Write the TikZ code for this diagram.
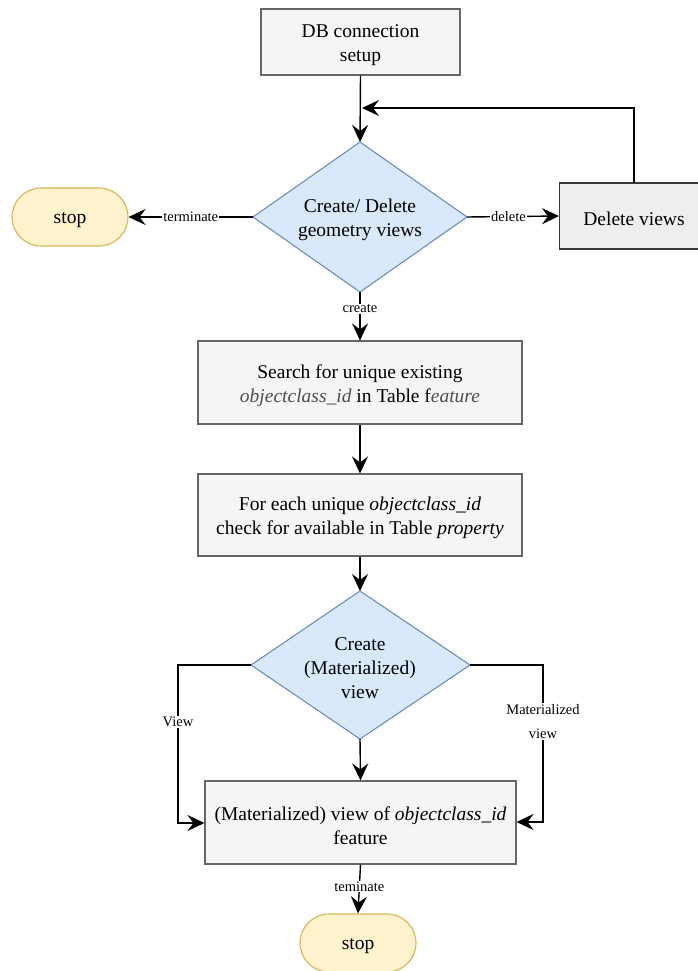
\documentclass[tikz,border=0pt]{standalone}
\usepackage{fontspec}
\setmainfont{Liberation Serif}
\usetikzlibrary{arrows.meta}
\definecolor{procfill}{HTML}{F5F5F5}
\definecolor{procline}{HTML}{666666}
\definecolor{delfill}{HTML}{EEEEEE}
\definecolor{delline}{HTML}{36393D}
\definecolor{decfill}{HTML}{DAE8FC}
\definecolor{decline}{HTML}{6C8EBF}
\definecolor{termfill}{HTML}{FFF2CC}
\definecolor{termline}{HTML}{D6B656}
\definecolor{soft}{HTML}{4D4D4D}
\begin{document}
\begin{tikzpicture}[x=1pt,y=-1pt,
  txt/.style={font=\fontsize{19.5}{24}\selectfont, align=center, inner sep=0pt},
  proc/.style={draw=procline, fill=procfill, line width=1.1pt, inner sep=0pt},
  delbox/.style={draw=delline, fill=delfill, line width=1.1pt, inner sep=0pt},
  term/.style={draw=termline, fill=termfill, line width=1.1pt, rounded corners=29pt, inner sep=0pt},
  flow/.style={line width=1.4pt, -{Stealth[length=17pt,width=16pt,inset=6pt]}},
  lbl/.style={font=\fontsize{14.5}{24}\selectfont, fill=white, inner sep=1pt, align=center}
]
\useasboundingbox (0,0) rectangle (698,971);

% process boxes (text set a little below the geometric centre)
\node[proc, minimum width=199pt, minimum height=66pt] (db) at (360.5,42) {};
\node[txt] (dbtext) at ([yshift=-3pt]db.center) {DB connection\\setup};

\node[proc, minimum width=324pt, minimum height=83pt] (search) at (360,382.5) {};
\node[txt] (searchtext) at ([yshift=-3pt]search.center)
  {Search for unique existing\\\textcolor{soft}{\textit{objectclass\_id}} in Table f\textcolor{soft}{\textit{eature}}};

\node[proc, minimum width=324pt, minimum height=82pt] (each) at (360,515) {};
\node[txt] (eachtext) at ([yshift=-3pt]each.center)
  {For each unique \textit{objectclass\_id}\\check for available in Table \textit{property}};

\node[proc, minimum width=311pt, minimum height=83pt] (mat) at (360.5,822.5) {};
\node[txt] (mattext) at ([yshift=-3pt]mat.center)
  {(Materialized) view of \textit{objectclass\_id}\\feature};

\node[delbox, minimum width=150pt, minimum height=66pt, anchor=west] (del) at (559,216) {};
\node[txt] (deltext) at ([yshift=-3pt]634,216) {Delete views};

% decisions drawn as polygons with named corners
\coordinate (d1t) at (360,142);
\coordinate (d1b) at (360,292);
\coordinate (d1l) at (253,217);
\coordinate (d1r) at (467,217);
\filldraw[draw=decline, fill=decfill, line width=1.1pt] (d1t) -- (d1r) -- (d1b) -- (d1l) -- cycle;
\node[txt] (d1) at ([yshift=-3pt]360,217) {Create/ Delete\\geometry views};

\coordinate (d2t) at (360,591);
\coordinate (d2b) at (360,739);
\coordinate (d2l) at (251,665);
\coordinate (d2r) at (470,665);
\filldraw[draw=decline, fill=decfill, line width=1.1pt] (d2t) -- (d2r) -- (d2b) -- (d2l) -- cycle;
\node[txt] (d2) at ([yshift=-3pt]360,665) {Create\\(Materialized)\\view};

% terminators
\node[term, minimum width=116pt, minimum height=58pt] (stop1) at (70,217) {};
\node[txt] (stop1text) at ([yshift=-3pt]stop1.center) {stop};
\node[term, minimum width=116pt, minimum height=58pt] (stop2) at (358,943) {};
\node[txt] (stop2text) at ([yshift=-3pt]stop2.center) {stop};

% connectors
\coordinate (loopin) at (362,108);
\draw[flow] (db.south) -- (d1t);
\draw[flow] (634,183) -- (634,108) -- (loopin);
\draw[flow] (d1l) -- node[lbl, pos=0.5]{terminate} (stop1.east);
\draw[flow] (d1r) -- node[lbl, pos=0.45]{delete} (del.west);
\draw[flow] (d1b) -- node[lbl, pos=0.35]{create} (search.north);
\draw[flow] (search.south) -- (each.north);
\draw[flow] (each.south) -- (d2t);
\draw[flow] (d2l) -- (178,665) -- node[lbl, pos=0.36]{View} (178,823) -- (mat.west |- 0,823);
\draw[flow] (d2r) -- (543,665) -- node[lbl, pos=0.36]{Materialized\\view} (543,822) -- (mat.east |- 0,822);
\draw[flow] (d2b) -- (mat.north);
\draw[flow] (mat.south) -- node[lbl, pos=0.45]{teminate} (stop2.north);
\end{tikzpicture}
\end{document}
